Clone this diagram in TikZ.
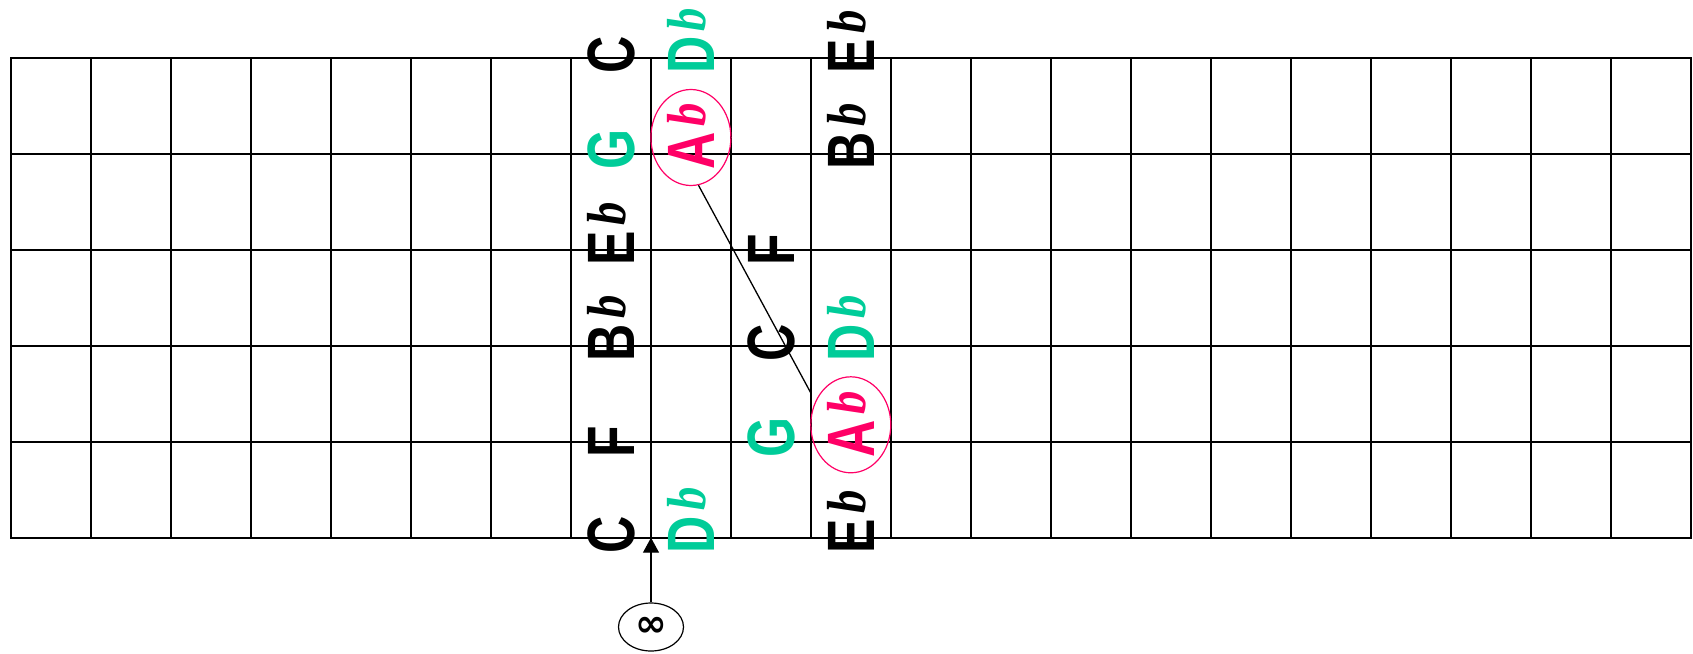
\documentclass[tikz,border=0pt]{standalone}
\usepackage{fontspec}
\usepackage{graphicx}
\usetikzlibrary{arrows.meta,shapes.geometric}
\newfontfamily\nfont{Liberation Sans}
\newfontfamily\flatfont{Liberation Serif}
\newfontfamily\symfont{DejaVu Sans}
\definecolor{ngreen}{HTML}{00CC99}
\definecolor{nred}{HTML}{FF0066}
\newcommand\NL[1]{\scalebox{0.77}[1]{\nfont\bfseries\fontsize{67}{67}\selectfont #1}}
\newcommand\FL{\hspace{5.5pt}\raisebox{9pt}{\scalebox{0.85}[1]{\flatfont\bfseries\itshape\fontsize{55}{55}\selectfont b}}}
\begin{document}
\begin{tikzpicture}[x=1pt,y=-1pt,
  gridline/.style={line width=1.7pt,black},
  notelbl/.style={rotate=90,anchor=base west,inner sep=0pt,outer sep=0pt},
  ring/.style={draw=nred,line width=1.2pt,ellipse,minimum width=80pt,minimum height=96pt,inner sep=0pt},
  marker/.style={draw=black,line width=1.2pt,ellipse,minimum width=65pt,minimum height=48pt,inner sep=0pt},
  link/.style={line width=1.3pt,black},
  pointer/.style={line width=1.3pt,black,-{Triangle[length=15pt,width=16pt]}}]
\useasboundingbox (0,0) rectangle (1693,653);
% grid
\foreach \i in {0,...,21} \draw[gridline] ({11+\i*79.986},58.3) -- ({11+\i*79.986},537.7);
\foreach \j in {0,...,5} \draw[gridline,line cap=rect] (11,{58.3+\j*95.88}) -- (1690.7,{58.3+\j*95.88});
% circles
\node[ring] (e1) at (690.9,137.5) {};
\node[ring] (e2) at (850.8,424.8) {};
% column 7
\node[notelbl] (a0) at (634.9,73.8) {\NL{C}};
\node[notelbl,text=ngreen] (a1) at (634.9,169.7) {\NL{G}};
\node[notelbl] (a2) at (634.9,265.6) {\NL{E}\FL};
\node[notelbl] (a3) at (634.9,361.5) {\NL{B}\FL};
\node[notelbl] (a4) at (634.9,457.3) {\NL{F}};
\node[notelbl] (a5) at (634.9,553.2) {\NL{C}};
% column 8
\node[notelbl,text=ngreen] (b0) at (714.9,73.8) {\NL{D}\FL};
\node[notelbl,text=nred] (b1) at (714.9,169.7) {\NL{A}\FL};
\node[notelbl,text=ngreen] (b5) at (714.9,553.2) {\NL{D}\FL};
% column 9
\node[notelbl] (c2) at (794.9,265.6) {\NL{F}};
\node[notelbl] (c3) at (794.9,361.5) {\NL{C}};
\node[notelbl,text=ngreen] (c4) at (794.9,457.3) {\NL{G}};
% column 10
\node[notelbl] (d0) at (874.8,73.8) {\NL{E}\FL};
\node[notelbl] (d1) at (874.8,169.7) {\NL{B}\FL};
\node[notelbl,text=ngreen] (d3) at (874.8,361.5) {\NL{D}\FL};
\node[notelbl,text=nred] (d4) at (874.8,457.3) {\NL{A}\FL};
\node[notelbl] (d5) at (874.8,553.2) {\NL{E}\FL};
% connector between the circled notes
\coordinate (lend) at (811,393.3);
\draw[link] (e1.-81) -- (lend);
% marker with arrow
\node[marker] (inf) at (651,627) {\symfont\bfseries\fontsize{38}{38}\selectfont ∞};
\coordinate (gb) at (651,537.7);
\draw[pointer] (inf.north) -- (gb);
\end{tikzpicture}
\end{document}
